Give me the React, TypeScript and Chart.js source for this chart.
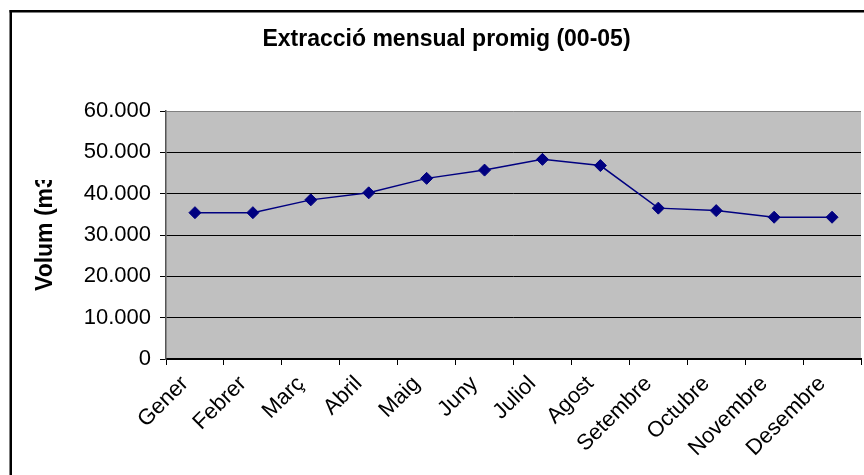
import React, { useEffect, useRef } from "react";
import { Chart, registerables } from "chart.js";

Chart.register(...registerables);

const months = ["Gener", "Febrer", "Març", "Abril", "Maig", "Juny", "Juliol", "Agost", "Setembre", "Octubre", "Novembre", "Desembre"];
const volum = [35400, 35400, 38500, 40200, 43700, 45700, 48300, 46800, 36500, 35900, 34300, 34300];
const yMin = 0;
const yMax = 60000;
const yStep = 10000;
const titleText = "Extracció mensual promig (00-05)";
const yTitleText = "Volum (m3)";

const FONT = "'Liberation Sans', Arial, Helvetica, sans-serif";

function fmt(v: number): string {
  if (v === 0) return "0";
  return String(Math.round(v)).replace(/\B(?=(\d{3})+(?!\d))/g, ".");
}

const decoPlugin = {
  id: "deco",
  beforeDraw(chart: any) {
    const { ctx, chartArea } = chart;
    ctx.save();
    ctx.fillStyle = "#C0C0C0";
    ctx.fillRect(chartArea.left, chartArea.top, chartArea.right - chartArea.left, chartArea.bottom - chartArea.top);
    ctx.restore();
  },
  afterDraw(chart: any) {
    const { ctx } = chart;
    ctx.save();
    // outer frame
    ctx.fillStyle = "#000";
    ctx.fillRect(9.5, 10, 2.5, chart.height);
    ctx.fillRect(9.5, 10, chart.width, 2.5);
    // clipped y-axis title
    ctx.beginPath();
    ctx.rect(0, 180, 160, chart.height);
    ctx.clip();
    ctx.translate(46, 291);
    ctx.rotate(-Math.PI / 2);
    ctx.font = `bold 23px ${FONT}`;
    ctx.fillStyle = "#000";
    ctx.textAlign = "left";
    ctx.textBaseline = "middle";
    ctx.fillText(yTitleText, 0, 0);
    ctx.restore();
  },
};

export default function App() {
  const ref = useRef<HTMLCanvasElement>(null);
  useEffect(() => {
    if (!ref.current) return;
    Chart.defaults.font.family = FONT;
    Chart.defaults.color = "#000";
    const chart = new Chart(ref.current, {
      type: "line",
      data: {
        labels: months,
        datasets: [
          {
            data: volum,
            borderColor: "#000080",
            backgroundColor: "#000080",
            borderWidth: 1.5,
            pointStyle: "rectRot",
            pointRadius: 6,
            pointBackgroundColor: "#000080",
            pointBorderColor: "#000080",
            pointBorderWidth: 1,
            tension: 0,
            fill: false,
          },
        ],
      },
      options: {
        animation: false,
        responsive: false,
        devicePixelRatio: 1,
        layout: { padding: { left: 25, right: 0, top: 0, bottom: 0 } },
        plugins: {
          legend: { display: false },
          tooltip: { enabled: false },
          title: {
            display: true,
            text: titleText,
            color: "#000",
            font: { family: FONT, size: 23, weight: "bold", lineHeight: 1.2 },
            padding: { top: 26.2, bottom: 57.2 },
          },
        },
        scales: {
          x: {
            type: "category",
            offset: true,
            grid: {
              offset: true,
              drawOnChartArea: false,
              drawTicks: true,
              tickLength: 6,
              tickColor: "#000",
              tickWidth: 1,
            },
            border: { display: true, color: "#000", width: 2 },
            ticks: {
              color: "#000",
              font: { family: FONT, size: 22 },
              minRotation: 45,
              maxRotation: 45,
              padding: 6,
              labelOffset: -10,
              autoSkip: false,
            },
            afterFit: (scale: any) => {
              scale.height = 116;
            },
          },
          y: {
            min: yMin,
            max: yMax,
            grid: {
              color: (c: any) => (c.tick && c.tick.value === yMax ? "#808080" : "#000"),
              lineWidth: 1,
              drawTicks: true,
              tickLength: 6,
              tickColor: "#000",
            },
            border: { display: true, color: "#555", width: 1.5 },
            ticks: {
              stepSize: yStep,
              color: "#000",
              font: { family: FONT, size: 22 },
              padding: 9,
              callback: (v: any) => fmt(Number(v)),
            },
            afterFit: (scale: any) => {
              scale.width = 141;
            },
          },
        },
      },
      plugins: [decoPlugin],
    });
    return () => chart.destroy();
  }, []);
  return (
    <div style={{ position: "fixed", left: 0, top: 0, width: 864, height: 475, overflow: "hidden", background: "#fff" }}>
      <canvas ref={ref} width={868} height={475} style={{ width: 868, height: 475, display: "block" }} />
    </div>
  );
}
